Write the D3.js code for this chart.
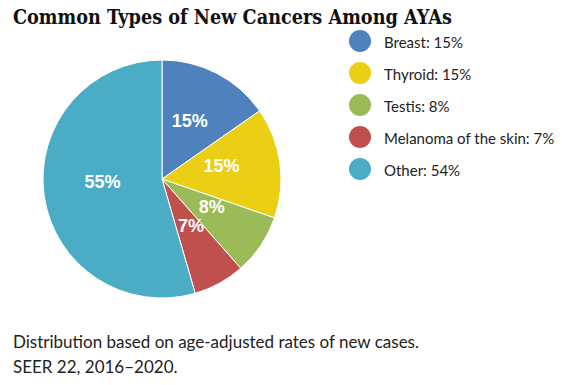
<html>
<head>
    <meta charset="utf-8">
    <title>Common Types of New Cancers Among AYAs</title>
    <style>
        body { margin: 0; background: #fff; }
        .title { font: bold 20px "DejaVu Serif", serif; fill: #111; }
        .legend text { font: 15px Lato, "Open Sans", sans-serif; fill: #222; }
        .note { font: 17px Lato, "Open Sans", sans-serif; fill: #222; }
        .slice-label { font: bold 18px "Liberation Sans", Arial, sans-serif; fill: #fff; }
    </style>
</head>
<body>
    <script src="https://cdn.jsdelivr.net/npm/d3@7"></script>
    <script>
        var width = 562,
            height = 385;

        // data
        var categories = ["Breast", "Thyroid", "Testis", "Melanoma of the skin", "Other"];
        var values = [15.3, 15.0, 8.2, 7.0, 54.5];
        var legendPct = [15, 15, 8, 7, 54];
        var colors = ["#4f81bd", "#eacf15", "#9bbb59", "#c0504d", "#4bacc6"];

        var svg = d3.select("body").append("svg")
            .attr("width", width)
            .attr("height", height);

        svg.append("text")
            .attr("class", "title")
            .attr("x", 13)
            .attr("y", 24)
            .attr("textLength", 439)
            .attr("lengthAdjust", "spacingAndGlyphs")
            .text("Common Types of New Cancers Among AYAs");

        var radius = 119;
        var pie = d3.pie().sort(null).value(d => d);
        var arcs = pie(values);
        var arc = d3.arc().innerRadius(0).outerRadius(radius);
        var labelArc = d3.arc().innerRadius(60).outerRadius(60);

        var g = svg.append("g")
            .attr("transform", "translate(162,179)");

        g.selectAll("path")
            .data(arcs)
            .join("path")
            .attr("d", arc)
            .attr("fill", (d, i) => colors[i])
            .attr("stroke", "#fff")
            .attr("stroke-width", 1);

        // labels sit a bit above the centroid, like the original
        g.selectAll("text")
            .data(arcs)
            .join("text")
            .attr("class", "slice-label")
            .attr("transform", d => {
                var c = labelArc.centroid(d);
                return `translate(${c[0]},${c[1] - 5.5})`;
            })
            .attr("text-anchor", "middle")
            .attr("dy", "0.35em")
            .text(d => Math.round(d.data) + "%");

        // legend
        var legend = svg.append("g")
            .attr("class", "legend")
            .selectAll("g")
            .data(categories)
            .join("g")
            .attr("transform", (d, i) => `translate(360,${41 + i * 32})`);

        legend.append("circle")
            .attr("r", 11)
            .attr("fill", (d, i) => colors[i]);

        legend.append("text")
            .attr("x", 24)
            .attr("dy", "0.45em")
            .text((d, i) => d + ": " + legendPct[i] + "%");

        svg.append("text")
            .attr("class", "note")
            .attr("x", 13)
            .attr("y", 348)
            .text("Distribution based on age-adjusted rates of new cases.");

        svg.append("text")
            .attr("class", "note")
            .attr("x", 13)
            .attr("y", 373)
            .text("SEER 22, 2016–2020.");
    </script>
</body>
</html>
